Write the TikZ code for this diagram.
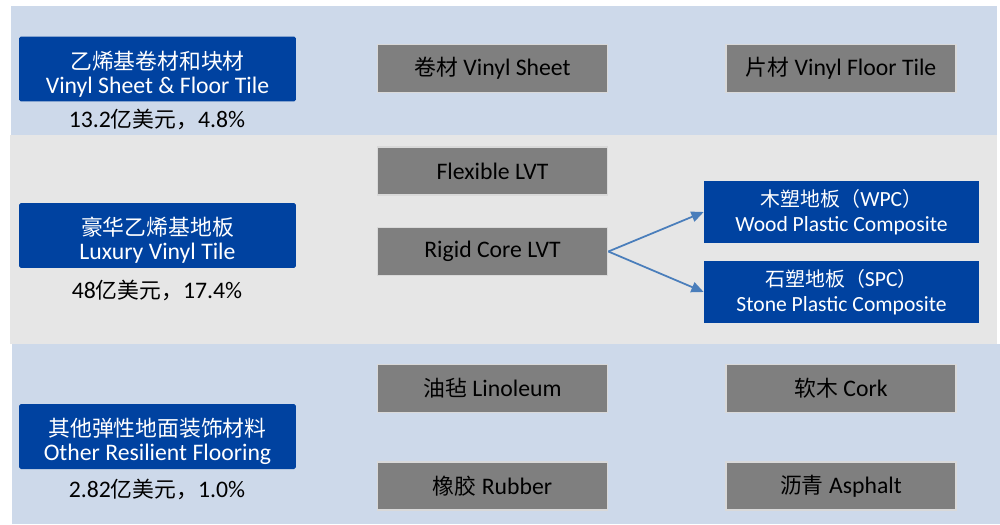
\documentclass[tikz,border=0pt]{standalone}
\usepackage{fontspec}
\setmainfont{Carlito}
\newfontfamily\cjk[Scale=0.92]{Noto Sans CJK SC}
\usetikzlibrary{arrows.meta}

\definecolor{bandblue}{HTML}{CDD9EA}
\definecolor{bandgrey}{HTML}{E6E6E6}
\definecolor{navy}{HTML}{0042A0}
\definecolor{boxgrey}{HTML}{7F7F7F}
\definecolor{boxedge}{HTML}{D9D9D9}
\definecolor{arrowblue}{HTML}{4A7EBB}

% two centred lines, set a little low in the box
\newcommand{\twolines}[2]{\raisebox{-3.8pt}[\height][\depth]{\begin{tabular}{@{}c@{}}#1\\#2\end{tabular}}}

\begin{document}
\begin{tikzpicture}[
  font=\fontsize{13.5}{15.5}\selectfont,
  segment/.style={fill=navy, text=white, rounded corners=1pt, inner sep=0pt,
    minimum width=5.54cm, minimum height=1.3cm,
    font=\fontsize{13.5}{13.8}\selectfont},
  subtype/.style={fill=navy, text=white, inner sep=0pt,
    minimum width=5.5cm, minimum height=1.24cm, align=center,
    font=\fontsize{12.3}{14}\selectfont},
  product/.style={fill=boxgrey, draw=boxedge, line width=1pt, inner sep=0pt,
    minimum width=4.6cm, minimum height=0.96cm},
  share/.style={inner sep=0pt},
  link/.style={draw=arrowblue, line width=1pt, -{Triangle[length=7pt,width=6pt]}}
]
\begin{scope}[x=0.02cm, y=-0.02cm]
\useasboundingbox (0,0) rectangle (1000,524);

% three bands
\fill[bandblue] (11,6) rectangle (997,135);
\fill[bandgrey] (10,135) rectangle (997,344);
\fill[bandblue] (12,344) rectangle (1000,524);

% market segments
\node[segment] (sheetcat) at (157.5,69) {\twolines{\cjk 乙烯基卷材和块材}{Vinyl Sheet \& Floor Tile}};
\node[share] (sheetshare) at (157,119) {13.2{\cjk 亿美元，}4.8\%};
\node[segment] (lvtcat) at (157.5,235.5) {\twolines{\cjk 豪华乙烯基地板}{Luxury Vinyl Tile}};
\node[share] (lvtshare) at (157,290) {48{\cjk 亿美元，}17.4\%};
\node[segment] (othercat) at (157.5,436.5) {\twolines{\cjk 其他弹性地面装饰材料}{Other Resilient Flooring}};
\node[share] (othershare) at (157,489) {2.82{\cjk 亿美元，}1.0\%};

% products
\node[product] (sheet) at (492.5,68.5) {{\cjk 卷材} Vinyl Sheet};
\node[product] (tile) at (841,68.5) {{\cjk 片材} Vinyl Floor Tile};
\node[product] (flex) at (492.5,171) {Flexible LVT};
\node[product] (rigid) at (492.5,251.5) {Rigid Core LVT};
\node[subtype] (wpc) at (841.5,212) {{\cjk 木塑地板（}WPC{\cjk ）}\\Wood Plastic Composite};
\node[subtype] (spc) at (841.5,292) {{\cjk 石塑地板（}SPC{\cjk ）}\\Stone Plastic Composite};
\node[product] (lino) at (492.5,388.5) {{\cjk 油毡} Linoleum};
\node[product] (cork) at (841,388.5) {{\cjk 软木} Cork};
\node[product] (rubber) at (492.5,486) {{\cjk 橡胶} Rubber};
\node[product] (asphalt) at (841,486) {{\cjk 沥青} Asphalt};

\draw[link] (rigid.east) -- (wpc.west);
\draw[link] (rigid.east) -- (spc.west);
\end{scope}
\end{tikzpicture}
\end{document}
